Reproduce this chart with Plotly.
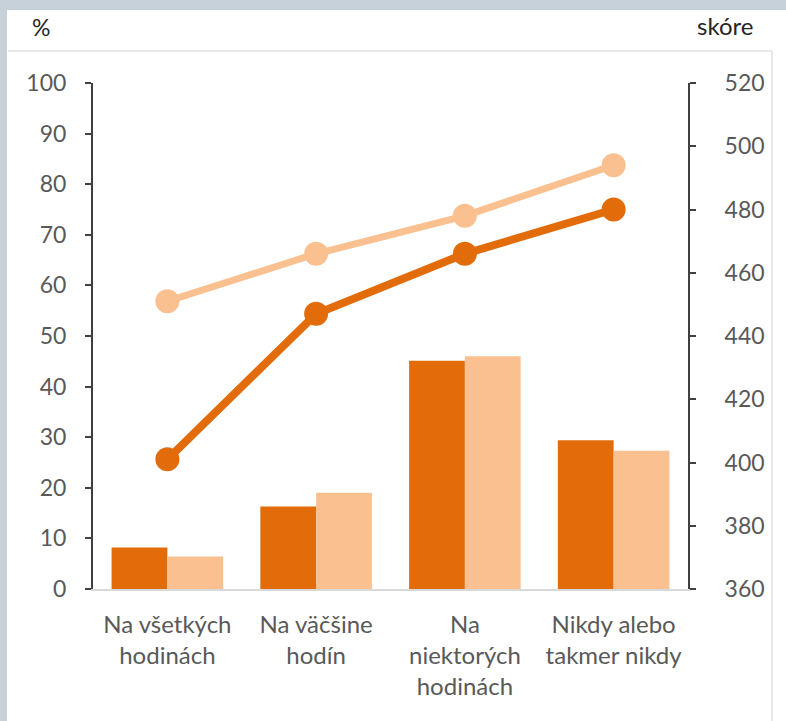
import plotly.graph_objects as go

categories = ["Na všetkých<br>hodinách", "Na väčšine<br>hodín", "Na<br>niektorých<br>hodinách", "Nikdy alebo<br>takmer nikdy"]
bars_dark = [8.2, 16.3, 45.1, 29.4]
bars_light = [6.4, 19.0, 46.0, 27.3]
score_dark = [401, 447, 466, 480]
score_light = [451, 466, 478, 494]

DARK = "#E36C0A"
LIGHT = "#FAC090"
FONT = "Lato"
TICKC = "#595959"
BG = "#c6d1d9"

W, H = 786, 721
L, R, T, B = 93, 688, 83, 589
pw, ph = R - L, B - T

def px(x):
    return (x - L) / pw

def py(y):
    return (B - y) / ph

fig = go.Figure()
fig.add_trace(go.Bar(x=categories, y=bars_dark, marker=dict(color=DARK, line=dict(width=0)), showlegend=False))
fig.add_trace(go.Bar(x=categories, y=bars_light, marker=dict(color=LIGHT, line=dict(width=0)), showlegend=False))
fig.add_trace(go.Scatter(x=categories, y=score_light, yaxis="y2", mode="lines+markers",
                         line=dict(color=LIGHT, width=7), marker=dict(color=LIGHT, size=24), showlegend=False))
fig.add_trace(go.Scatter(x=categories, y=score_dark, yaxis="y2", mode="lines+markers",
                         line=dict(color=DARK, width=8), marker=dict(color=DARK, size=24), showlegend=False))

shapes = [
    dict(type="rect", xref="paper", yref="paper", x0=px(7), x1=px(800), y0=py(730), y1=py(10),
         fillcolor="white", line=dict(width=0), layer="below"),
    dict(type="line", xref="paper", yref="paper", x0=px(8), x1=px(772), y0=py(51), y1=py(51),
         line=dict(color="#e0e0e0", width=1.5), layer="below"),
    dict(type="line", xref="paper", yref="paper", x0=px(772), x1=px(772), y0=py(51), y1=py(730),
         line=dict(color="#e0e0e0", width=1.5), layer="below"),
]

annotations = [
    dict(text="%", xref="paper", yref="paper", x=px(41), y=py(27), showarrow=False,
         font=dict(family=FONT, size=23, color="#262626"), xanchor="center", yanchor="middle"),
    dict(text="skóre", xref="paper", yref="paper", x=px(725), y=py(25), showarrow=False,
         font=dict(family=FONT, size=24, color="#262626"), xanchor="center", yanchor="middle"),
]

fig.update_layout(
    width=W, height=H,
    margin=dict(l=L, r=W - R, t=T, b=H - B, pad=0),
    paper_bgcolor=BG,
    plot_bgcolor="rgba(0,0,0,0)",
    barmode="group", bargap=0.25, bargroupgap=0,
    shapes=shapes, annotations=annotations,
    font=dict(family=FONT, size=22, color=TICKC),
    xaxis=dict(showline=True, linecolor="#d9d9d9", linewidth=1.5, showgrid=False, ticks="",
               tickfont=dict(family=FONT, size=24, color=TICKC), ticklabelstandoff=13, fixedrange=True),
    yaxis=dict(range=[0, 100], dtick=10, showgrid=False, zeroline=False, showline=True,
               linecolor="#404040", linewidth=2, ticks="outside", ticklen=6, tickwidth=2, tickcolor="#404040",
               tickfont=dict(family=FONT, size=23, color=TICKC), ticklabelstandoff=14),
    yaxis2=dict(range=[360, 520], dtick=20, overlaying="y", side="right", showgrid=False, zeroline=False,
                showline=True, linecolor="#404040", linewidth=2, ticks="outside", ticklen=6, tickwidth=2,
                tickcolor="#404040", tickfont=dict(family=FONT, size=23, color=TICKC), ticklabelstandoff=24),
)

fig.write_html("out.html", config={"displayModeBar": False},
               post_script="document.body.style.margin='0';document.body.style.background='" + BG + "';")
